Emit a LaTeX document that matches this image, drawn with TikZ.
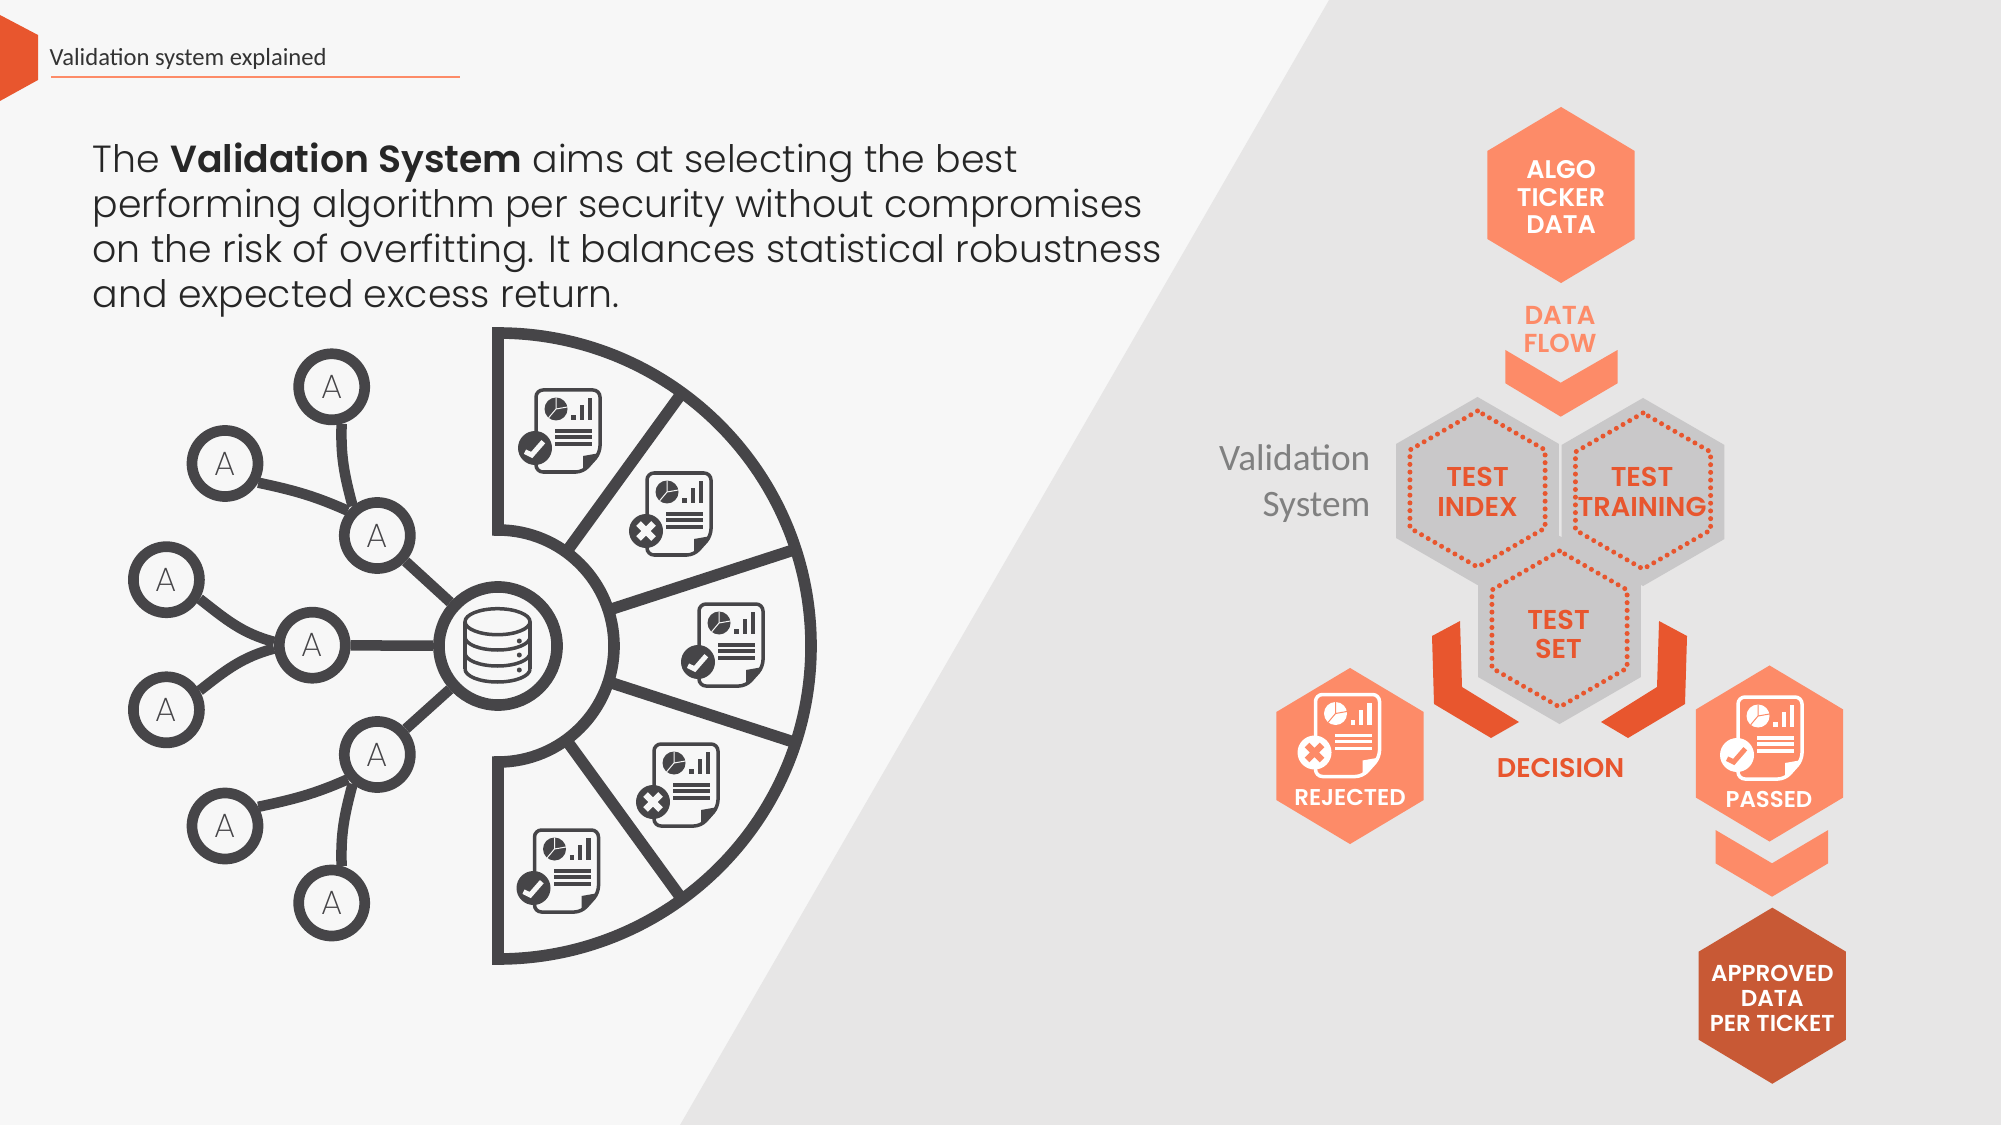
\documentclass[tikz,border=0pt]{standalone}
\usepackage{xcolor}
\usepackage{fontspec}
\usepackage{tikz}
\usetikzlibrary{shapes.geometric}
\setmainfont{Poppins}[UprightFont=* Light,BoldFont=* SemiBold]
\newfontfamily\slidefont{Carlito}
\newfontfamily\algofont{Poppins}[UprightFont=* ExtraLight]
\definecolor{valPaper}{HTML}{F7F7F7}
\definecolor{valGrey}{HTML}{E7E6E6}
\definecolor{valInk}{HTML}{464548}
\definecolor{valHex}{HTML}{C9C8C9}
\definecolor{valRed}{HTML}{E8562E}
\definecolor{valOrange}{HTML}{FD8B68}
\definecolor{valDark}{HTML}{C85935}
\tikzset{
  algonode/.style={ellipse,draw=valInk,fill=valPaper,line width=.107cm,minimum width=.66cm,minimum height=.66cm,inner sep=0pt,font=\fontsize{9.6}{9.6}\selectfont\algofont,text=valInk},
  link/.style={valInk,line width=.105cm},
  hexnode/.style={regular polygon,regular polygon sides=6,shape border rotate=30,minimum size=1.76cm,inner sep=0pt,fill=valOrange,transform shape,xscale=.966},
  graynode/.style={regular polygon,regular polygon sides=6,shape border rotate=30,minimum size=1.88cm,inner sep=0pt,fill=valHex},
  testnode/.style={regular polygon,regular polygon sides=6,shape border rotate=30,minimum size=1.56cm,inner sep=0pt,draw=valRed,line width=.05cm,line cap=round,dash pattern=on 0pt off .77mm},
  hextext/.style={text=white,align=center,inner sep=0pt,font=\fontsize{7.25}{7.8}\selectfont\bfseries},
  testtext/.style={text=valRed,align=center,inner sep=0pt,font=\fontsize{7.75}{8.4}\selectfont\bfseries},
  doctext/.style={text=white,inner sep=0pt,font=\fontsize{6.5}{7}\selectfont\bfseries},
  pics/report/.style 2 args={code={
    \draw[#1,fill=#2,line width=.035cm,rounded corners=2pt] (-32,41) -- (32,41) -- (32,-22) -- (15,-41) -- (-32,-41) -- cycle;
    \fill[#1] (32,-22) -- (15,-41) -- (15,-25) -- cycle;
    \fill[#1] (-12,22) circle (11.5);
    \draw[#2,line width=.01cm] (-12,22) -- ++(90:11.5) (-12,22) -- ++(10:11.5) (-12,22) -- ++(-130:11.5);
    \foreach \bx/\bh in {5.3/5,13.7/15,22/21.7} \fill[#1] (\bx-2.2,11) rectangle (\bx+2.2,11+\bh);
    \foreach \ly in {0,-6,-13} \fill[#1] (-13,\ly-1.6) rectangle (24,\ly+1.6);
  }},
  pics/tick/.style 2 args={code={
    \fill[#1] (-33,-17) circle (17);
    \draw[#2,line width=.05cm] (-43,-20.7) -- (-36.3,-24) -- (-24.7,-10.7);
  }},
  pics/cross/.style 2 args={code={
    \fill[#1] (-33,-17) circle (17);
    \draw[#2,line width=.065cm] (-40.5,-24.5) -- (-25.5,-9.5) (-40.5,-9.5) -- (-25.5,-24.5);
  }},
}
\begin{document}
\begin{tikzpicture}[x=.01cm,y=.01cm]
  \useasboundingbox (0,0) rectangle (2001,-1125);
  % background
  \fill[valPaper] (0,0) rectangle (2001,-1125);
  \fill[valGrey] (1329,0) -- (2001,0) -- (2001,-1125) -- (680,-1125) -- cycle;
  % header
  \fill[valRed] (0,-15) -- (38,-35) -- (38,-80) -- (0,-101) -- cycle;
  \draw[valOrange,line width=.015cm] (51,-77) -- (460,-77);
  \node[anchor=base west,inner sep=0pt,text=black!80,font=\fontsize{7}{8}\selectfont\slidefont] (title) at (49,-65.5) {Validation system explained};
  \node[anchor=north west,inner sep=0pt,text=black!85,align=left,font=\fontsize{10.75}{12.8}\selectfont] (intro) at (92,-142.5) {The \textbf{Validation System} aims at selecting the best\\performing algorithm per security without compromises\\on the risk of overfitting. It balances statistical robustness\\and expected excess return.};
  % half wheel
  \coordinate (hub) at (498,-646);
  \draw[valInk,line width=.116cm,fill=valPaper] (498,-333) arc[start angle=90,end angle=-90,radius=313] -- (498,-762) arc[start angle=-90,end angle=90,radius=116] -- cycle;
  \foreach \a in {54,18,-18,-54}
    \draw[valInk,line width=.116cm] (hub) ++(\a:116) -- ++(\a:197);
  % algorithm tree
  \node[algonode] (a1) at (331.7,-386.8) {A};
  \node[algonode] (a2) at (225,-463.5) {A};
  \node[algonode] (a3) at (377.3,-535.5) {A};
  \node[algonode] (a4) at (166.4,-579.7) {A};
  \node[algonode] (a5) at (312.3,-645.2) {A};
  \node[algonode] (a6) at (166.4,-709.8) {A};
  \node[algonode] (a7) at (377.3,-754.5) {A};
  \node[algonode] (a8) at (225,-826) {A};
  \node[algonode] (a9) at (331.7,-903) {A};
  \node[circle,draw=valInk,fill=valPaper,line width=.116cm,minimum size=1.18cm,inner sep=0pt] (db) at (498,-646) {};
  \draw[link] (a1.-75) to[out=-92,in=105] (a3.130);
  \draw[link] (a2.-30) to[out=-12,in=156] (a3.140);
  \draw[link] (a4.-30) to[out=-38,in=165] (a5.175);
  \draw[link] (a6.30) to[out=38,in=195] (a5.185);
  \draw[link] (a8.30) to[out=12,in=204] (a7.220);
  \draw[link] (a9.75) to[out=92,in=-105] (a7.230);
  \draw[link] (a3) -- (db);
  \draw[link] (a5) -- (db);
  \draw[link] (a7) -- (db);
  % database
  \begin{scope}[valInk,line width=.035cm]
    \draw (465,-621.7) -- (465,-669) (530,-621.7) -- (530,-669);
    \draw (497.5,-621.7) ellipse (32.5 and 13);
    \foreach \by in {637,653,669}
      \draw (465,-\by) arc[start angle=180,end angle=360,x radius=32.5,y radius=13];
    \foreach \dy in {641,655,670} \fill (519.3,-\dy) circle (2.5);
  \end{scope}
  % reports
  \foreach \x/\y in {568/431,731/645,566.5/871} {
    \pic at (\x,-\y) {report={valInk}{valPaper}};
    \pic at (\x,-\y) {tick={valInk}{valPaper}};
  }
  \foreach \x/\y in {679/514,686/785} {
    \pic at (\x,-\y) {report={valInk}{valPaper}};
    \pic at (\x,-\y) {cross={valInk}{valPaper}};
  }
  % flow
  \node[hexnode] (algo) at (1561,-195) {};
  \node[hextext] (algotext) at (1561,-197) {ALGO\\TICKER\\DATA};
  \node[hextext,text=valOrange,font=\fontsize{7.4}{7.8}\selectfont\bfseries] (flow) at (1560,-329.5) {DATA\\FLOW};
  \fill[valOrange] (1505.4,-350) -- (1560.7,-382.7) -- (1617.5,-350) -- (1617.5,-383.3) -- (1560.7,-416.7) -- (1505.4,-383.3) -- cycle;
  \node[graynode] (indexhex) at (1477.5,-491) {};
  \node[graynode] (trainhex) at (1643,-492) {};
  \node[graynode] (sethex) at (1559.5,-630) {};
  \node[testnode] (testindex) at (1477.5,-489) {};
  \node[testnode] (testtrain) at (1643,-491) {};
  \node[testnode] (testset) at (1559.5,-629) {};
  \node[testtext] (indextext) at (1477.5,-492) {TEST\\INDEX};
  \node[testtext] (traintext) at (1642,-492) {TEST\\TRAINING};
  \node[testtext] (settext) at (1558.5,-634.5) {TEST\\SET};
  \node[anchor=base east,inner sep=0pt,text=black!50,font=\fontsize{10.6}{12.8}\selectfont\slidefont] (valsys) at (1371,-471) {Validation};
  \node[anchor=base east,inner sep=0pt,text=black!50,font=\fontsize{10.6}{12.8}\selectfont\slidefont] (valsys2) at (1371,-516) {System};
  % decision
  \fill[valRed] (1460,-621) -- (1432,-636) -- (1434,-704) -- (1491,-738) -- (1519,-722) -- (1462,-687) -- cycle;
  \fill[valRed] (1659,-621) -- (1687,-636) -- (1685,-704) -- (1628,-738) -- (1601,-722) -- (1657,-687) -- cycle;
  \node[text=valRed,inner sep=0pt,font=\fontsize{7.7}{7.8}\selectfont\bfseries] (decision) at (1560.5,-768) {DECISION};
  \node[hexnode] (rejected) at (1350,-756) {};
  \node[hexnode] (passed) at (1769.5,-753.5) {};
  \node[doctext] (rejectedtext) at (1350,-797) {REJECTED};
  \node[doctext] (passedtext) at (1769,-799) {PASSED};
  \pic at (1347.5,-735.5) {report={white}{valOrange}};
  \pic at (1347.5,-735.5) {cross={white}{valOrange}};
  \pic at (1770,-738) {report={white}{valOrange}};
  \pic at (1770,-738) {tick={white}{valOrange}};
  \fill[valOrange] (1715.5,-830) -- (1772,-863.3) -- (1828.2,-830) -- (1828.2,-863.3) -- (1772,-896.7) -- (1715.5,-863.3) -- cycle;
  \node[hexnode,fill=valDark] (approved) at (1772.3,-995.7) {};
  \node[hextext,font=\fontsize{6.55}{7.1}\selectfont\bfseries] (approvedtext) at (1772.3,-998.5) {APPROVED\\DATA\\PER TICKET};
\end{tikzpicture}
\end{document}
